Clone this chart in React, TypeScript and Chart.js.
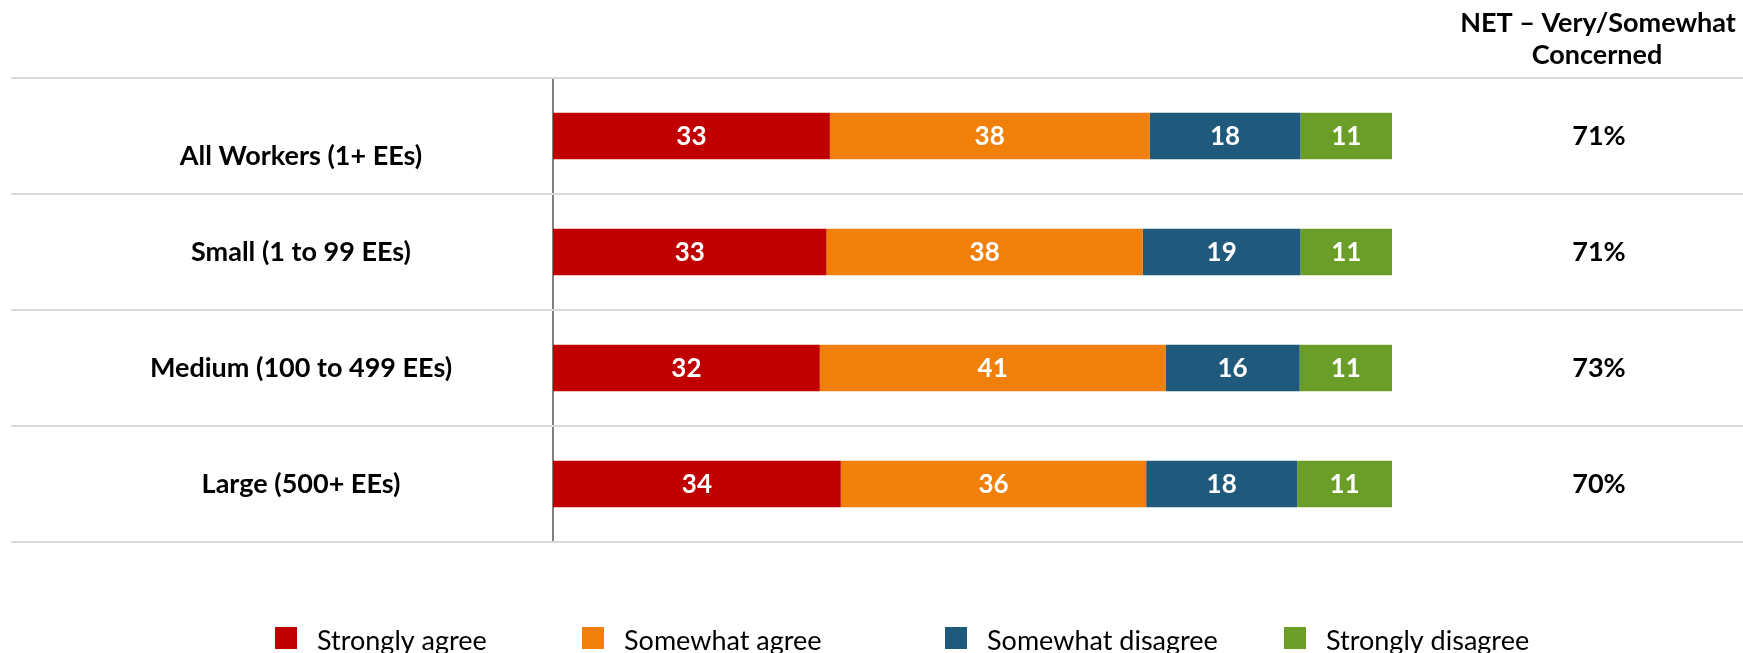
import React, { useEffect, useRef } from 'react';
import { Chart, registerables } from 'chart.js';

Chart.register(...registerables);

// ---- data ----
const categories = ['All Workers (1+ EEs)', 'Small (1 to 99 EEs)', 'Medium (100 to 499 EEs)', 'Large (500+ EEs)'];
const seriesNames = ['Strongly agree', 'Somewhat agree', 'Somewhat disagree', 'Strongly disagree'];
const stronglyAgree = [33.0, 32.6, 31.8, 34.3];
const somewhatAgree = [38.1, 37.7, 41.2, 36.4];
const somewhatDisagree = [18.0, 18.8, 16.0, 18.0];
const stronglyDisagree = [10.9, 10.9, 11.0, 11.3];
const netConcerned = ['71%', '71%', '73%', '70%'];
const netHeader = ['NET – Very/Somewhat', 'Concerned'];
const seriesColors = ['#C00000', '#F0800A', '#1F5A7D', '#6B9E28'];

const FONT = 'Lato, "Open Sans", sans-serif';

const overlayPlugin = {
  id: 'overlay',
  beforeDatasetsDraw(chart: any) {
    const { ctx, chartArea, width } = chart;
    const n = categories.length;
    const step = (chartArea.bottom - chartArea.top) / n;
    ctx.save();
    ctx.strokeStyle = '#D9D9D9';
    ctx.lineWidth = 2;
    for (let i = 0; i <= n; i++) {
      const y = Math.round(chartArea.top + i * step);
      ctx.beginPath();
      ctx.moveTo(11, y);
      ctx.lineTo(width, y);
      ctx.stroke();
    }
    ctx.restore();
  },
  afterDatasetsDraw(chart: any) {
    const { ctx } = chart;
    const yScale = chart.scales.y;
    ctx.save();
    // values inside bars
    ctx.fillStyle = '#FFFFFF';
    ctx.font = `bold 26px ${FONT}`;
    ctx.textAlign = 'center';
    ctx.textBaseline = 'middle';
    chart.data.datasets.forEach((ds: any, di: number) => {
      const meta = chart.getDatasetMeta(di);
      meta.data.forEach((bar: any, j: number) => {
        const p = bar.getCenterPoint();
        ctx.fillText(String(Math.round(ds.data[j])), p.x, p.y + 1);
      });
    });
    // category labels
    const labelNudge = [20, 0, 0, 0];
    ctx.fillStyle = '#000000';
    ctx.font = `bold 27px ${FONT}`;
    categories.forEach((c, i) => {
      const y = yScale.getPixelForValue(i);
      ctx.fillText(c, 301, y + labelNudge[i]);
    });
    // NET column
    netConcerned.forEach((v, i) => {
      const y = yScale.getPixelForValue(i);
      ctx.fillText(v, 1599, y);
    });
    ctx.fillText(netHeader[0], 1598, 23);
    ctx.fillText(netHeader[1], 1597, 55);
    // legend
    const legendX = [275, 582, 945, 1284];
    ctx.font = `27px ${FONT}`;
    ctx.textAlign = 'left';
    ctx.textBaseline = 'alphabetic';
    seriesNames.forEach((name, i) => {
      ctx.fillStyle = seriesColors[i];
      ctx.fillRect(legendX[i], 627, 22, 22);
      ctx.fillStyle = '#000000';
      ctx.fillText(name, legendX[i] + 42, 650);
    });
    ctx.restore();
  },
};

export default function App() {
  const ref = useRef<HTMLCanvasElement>(null);
  useEffect(() => {
    document.body.style.margin = '0';
    const values = [stronglyAgree, somewhatAgree, somewhatDisagree, stronglyDisagree];
    const chart = new Chart(ref.current as HTMLCanvasElement, {
      type: 'bar',
      data: {
        labels: categories,
        datasets: seriesNames.map((name, i) => ({
          label: name,
          data: values[i],
          backgroundColor: seriesColors[i],
          borderWidth: 0,
          barPercentage: 0.4,
          categoryPercentage: 1.0,
        })),
      },
      options: {
        indexAxis: 'y',
        responsive: false,
        animation: false,
        devicePixelRatio: 1,
        layout: { padding: { top: 78, bottom: 111, left: 0, right: 351 } },
        plugins: { legend: { display: false }, tooltip: { enabled: false } },
        scales: {
          x: { stacked: true, min: 0, max: 100, display: false },
          y: {
            stacked: true,
            grid: { display: false },
            border: { display: true, color: '#808080', width: 2 },
            ticks: { display: false },
            afterFit: (s: any) => { s.width = 553; },
          },
        },
      },
      plugins: [overlayPlugin],
    });
    return () => chart.destroy();
  }, []);
  return <canvas ref={ref} width={1743} height={653} style={{ display: 'block' }} />;
}
